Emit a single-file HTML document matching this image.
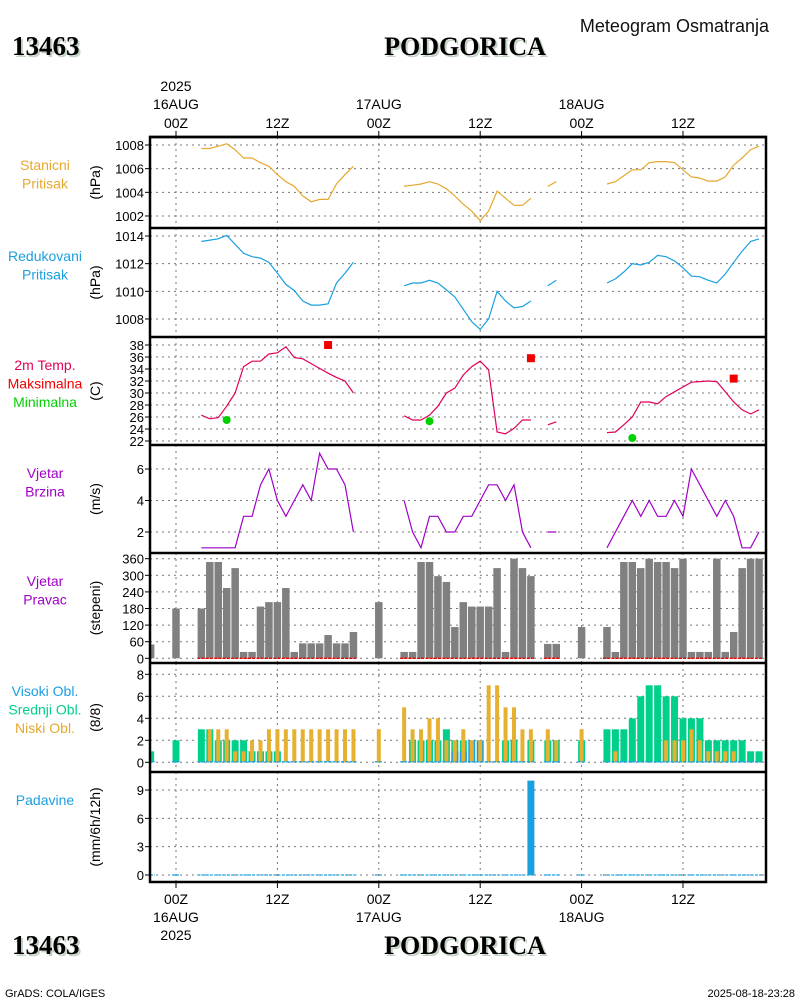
<!DOCTYPE html>
<html><head><meta charset="utf-8">
<style>
html,body{margin:0;padding:0;background:#fff;}
svg{display:block;font-family:"Liberation Sans",sans-serif;}
.ttl{font-family:"Liberation Serif",serif;font-weight:bold;}
</style></head>
<body>
<svg id="chart" width="800" height="1000" viewBox="0 0 800 1000" xmlns="http://www.w3.org/2000/svg">
  <g>
    <text x="769" y="32" font-size="18" text-anchor="end" fill="#111">Meteogram Osmatranja</text>
    <text class="ttl" x="14" y="57" font-size="27" fill="#c4d4c4">13463</text>
    <text class="ttl" x="12" y="55" font-size="27" fill="#000">13463</text>
    <text class="ttl" x="467" y="57" font-size="26" text-anchor="middle" fill="#c4d4c4">PODGORICA</text>
    <text class="ttl" x="465" y="55" font-size="26" text-anchor="middle" fill="#000">PODGORICA</text>
  </g>
  <g>
    <text class="ttl" x="14" y="956" font-size="27" fill="#c4d4c4">13463</text>
    <text class="ttl" x="12" y="954" font-size="27" fill="#000">13463</text>
    <text class="ttl" x="467" y="956" font-size="26" text-anchor="middle" fill="#c4d4c4">PODGORICA</text>
    <text class="ttl" x="465" y="954" font-size="26" text-anchor="middle" fill="#000">PODGORICA</text>
    <text x="5" y="997" font-size="11" fill="#000">GrADS: COLA/IGES</text>
    <text x="795" y="997" font-size="11" text-anchor="end" fill="#000">2025-08-18-23:28</text>
  </g>
  <g id="plots"></g>
</svg>
<script>
const hourStart = -3;
const hours = [];
for (let h = -3; h <= 69; h++) hours.push(h);
const N = null;
const stationPressure = [N,N,N,N,N,N,
 1007.7,1007.7,1007.9,1008.1,1007.6,1006.9,1006.9,1006.5,1006.2,1005.5,1004.9,1004.5,1003.7,1003.2,1003.4,1003.4,1004.7,1005.5,1006.2,
 N,N,N,N,N,
 1004.5,1004.6,1004.7,1004.9,1004.7,1004.3,1003.7,1003.0,1002.4,1001.6,1002.4,1004.1,1003.5,1002.9,1002.9,1003.5,
 N,1004.5,1004.9,N,N,N,N,N,
 1004.7,1004.9,1005.4,1005.9,1005.9,1006.5,1006.6,1006.6,1006.5,1005.9,1005.3,1005.2,1004.95,1004.95,1005.3,1006.3,1006.9,1007.6,1007.9];
const reducedPressure = [N,N,N,N,N,N,
 1013.6,1013.7,1013.8,1014.05,1013.4,1012.75,1012.5,1012.4,1012.1,1011.3,1010.5,1010.05,1009.3,1009.0,1009.0,1009.1,1010.6,1011.3,1012.1,
 N,N,N,N,N,
 1010.4,1010.6,1010.6,1010.8,1010.6,1010.1,1009.6,1008.7,1007.8,1007.25,1008.0,1010.0,1009.3,1008.8,1008.9,1009.3,
 N,1010.4,1010.8,N,N,N,N,N,
 1010.6,1010.9,1011.4,1012.0,1011.9,1012.1,1012.6,1012.5,1012.2,1011.7,1011.1,1011.05,1010.8,1010.6,1011.25,1012.1,1012.9,1013.6,1013.8];
const temperature = [N,N,N,N,N,N,
 26.3,25.7,25.9,27.8,30.0,34.4,35.3,35.3,36.5,36.7,37.7,35.9,35.7,34.9,34.1,33.3,32.6,32.0,30.0,
 N,N,N,N,N,
 26.2,25.5,25.5,26.3,27.8,30.0,30.8,33.0,34.4,35.3,33.9,23.5,23.2,24.1,25.5,25.5,
 N,24.7,25.2,N,N,N,N,N,
 23.4,23.5,24.7,26.0,28.5,28.5,28.2,29.4,30.2,31.0,31.8,31.9,32.0,31.9,30.2,28.5,27.2,26.5,27.2];
const maxTempHours = [18, 42, 66];
const maxTempValues = [38.0, 35.8, 32.4];
const minTempHours = [6, 30, 54];
const minTempValues = [25.5, 25.3, 22.5];
const windSpeed = [N,N,N,N,N,N,
 1,1,1,1,1,3,3,5,6,4,3,4,5,4,7,6,6,5,2,
 N,N,N,N,N,
 4,2,1,3,3,2,2,3,3,4,5,5,4,5,2,1,
 N,2,2,N,N,N,N,N,
 1,2,3,4,3,4,3,3,4,3,6,5,4,3,4,3,1,1,2];
const windDir = [50,N,N,180,N,N,
 180,348,348,254,326,23,23,187,203,203,254,23,54,54,54,84,54,54,95,
 N,N,203,N,N,
 23,23,348,348,297,276,113,203,187,187,187,326,23,360,326,297,
 N,52,52,N,N,113,N,N,
 113,23,348,348,326,360,348,348,326,360,23,23,23,360,23,95,326,360,360];
const cloudMid = [1,N,N,2,N,N,
 3,3,2,2,2,2,1,1,1,1,0,0,0,0,0,0,0,0,0,
 N,N,0,N,N,
 0,2,2,2,2,3,2,2,0,0,0,0,2,2,0,2,
 N,2,2,N,N,2,N,N,
 3,3,3,4,6,7,7,6,6,4,4,4,2,2,2,2,2,1,1];
const cloudHigh = [0,N,N,0,N,N,
 0,0,0,0,0,0,0,0,0,0,0,0,0,0,0,0,0,0,0,
 N,N,0,N,N,
 0,0,0,0,0,0,1,1,2,2,0,0,0,0,0,0,
 N,0,0,N,N,0,N,N,
 0,0,0,0,0,0,0,0,0,0,0,0,0,0,0,0,0,0,0];
const cloudLow = [0,N,N,0,N,N,
 0,3,3,3,1,1,2,2,3,3,3,3,3,3,3,3,3,3,3,
 N,N,3,N,N,
 5,3,3,4,4,2,2,3,2,2,7,7,5,5,3,3,
 N,3,2,N,N,3,N,N,
 0,1,0,0,0,0,0,2,2,2,3,2,1,1,1,1,0,0,0];
const precip = [0,N,N,0,N,N,
 0,0,0,0,0,0,0,0,0,0,0,0,0,0,0,0,0,0,0,
 N,N,0,N,N,
 0,0,0,0,0,0,0,0,0,0,0,0,0,0,0,10,
 N,0,0,N,N,0,N,N,
 0,0,0,0,0,0,0,0,0,0,0,0,0,0,0,0,0,0,0];
const ticksP1 = [1002,1004,1006,1008];
const ticksP2 = [1008,1010,1012,1014];
const ticksP3 = [22,24,26,28,30,32,34,36,38];
const ticksP4 = [2,4,6];
const ticksP5 = [0,60,120,180,240,300,360];
const ticksP6 = [0,2,4,6,8];
const ticksP7 = [0,3,6,9];
const timeTickHours = [0,12,24,36,48,60];
const timeTickLabels = ["00Z","12Z","00Z","12Z","00Z","12Z"];
const dayLabels = {0:"16AUG",24:"17AUG",48:"18AUG"};

const X0 = 150, X1 = 766;
const xs = h => 176 + h * 8.45;
const NS = "http://www.w3.org/2000/svg";
const root = document.getElementById('plots');
function mk(tag, attrs, parent) {
  const e = document.createElementNS(NS, tag);
  for (const k in attrs) e.setAttribute(k, attrs[k]);
  (parent || root).appendChild(e);
  return e;
}

const panels = [
  {top:137,bot:228,ys:v=>145+(1008-v)*11.83,ticks:ticksP1,unit:"(hPa)",labels:[["Stanicni","#e6a82e"],["Pritisak","#e6a82e"]],name:"station-pressure"},
  {top:228,bot:337,ys:v=>236+(1014-v)*13.83,ticks:ticksP2,unit:"(hPa)",labels:[["Redukovani","#1aa0e0"],["Pritisak","#1aa0e0"]],name:"reduced-pressure"},
  {top:337,bot:445,ys:v=>345+(38-v)*6,ticks:ticksP3,unit:"(C)",labels:[["2m Temp.","#e0005a"],["Maksimalna","#f00000"],["Minimalna","#00d000"]],name:"temperature"},
  {top:445,bot:553,ys:v=>469+(6-v)*15.75,ticks:ticksP4,unit:"(m/s)",labels:[["Vjetar","#a000c8"],["Brzina","#a000c8"]],name:"wind-speed"},
  {top:553,bot:663,ys:v=>658.3-v*0.2767,ticks:ticksP5,unit:"(stepeni)",labels:[["Vjetar","#a000c8"],["Pravac","#a000c8"]],name:"wind-direction"},
  {top:663,bot:772,ys:v=>762.3-v*11,ticks:ticksP6,unit:"(8/8)",labels:[["Visoki Obl.","#1aa0e0"],["Srednji Obl.","#00d08a"],["Niski Obl.","#e6a82e"]],name:"clouds"},
  {top:772,bot:882,ys:v=>875-v*9.44,ticks:ticksP7,unit:"(mm/6h/12h)",labels:[["Padavine","#1aa0e0"]],name:"precipitation"}
];

panels.forEach(p => {
  const g = mk('g', {});
  
  
  p.g = g;
  timeTickHours.forEach(h => {
    const l = mk('line', {x1:xs(h),x2:xs(h),y1:p.top,y2:p.bot,stroke:'#777','stroke-dasharray':'2,4','stroke-width':1}, g);
    
    
  });
  p.ticks.forEach(v => {
    const y = p.ys(v);
    const l = mk('line', {x1:X0,x2:X1,y1:y,y2:y,stroke:'#777','stroke-dasharray':'2,4','stroke-width':1}, g);
    
    
    mk('line', {x1:X0-5,x2:X0,y1:y,y2:y,stroke:'#000','stroke-width':1}, g);
    const t = mk('text', {x:X0-6,y:y+5,'font-size':13,'text-anchor':'end',fill:'#000'}, g);
    t.textContent = v;
    
    
  });
  const cy = (p.top + p.bot) / 2;
  const ut = mk('text', {x:0,y:0,'font-size':14,'text-anchor':'middle',fill:'#000',transform:`translate(100,${cy}) rotate(-90)`}, g);
  ut.textContent = p.unit;
  
  
  p.labels.forEach((lb, i) => {
    const t = mk('text', {x:45,y:p.top + 33 + i*18.5,'font-size':14,'text-anchor':'middle',fill:lb[1]}, g);
    t.textContent = lb[0];
    
    
  });
});

function line(p, vals, color, name) {
  let d = '';
  let pen = false;
  vals.forEach((v, i) => {
    if (v === null) { pen = false; return; }
    d += (pen ? 'L' : 'M') + xs(hours[i]).toFixed(1) + ' ' + p.ys(v).toFixed(1) + ' ';
    pen = true;
  });
  const e = mk('path', {d:d,fill:'none',stroke:color,'stroke-width':1.2}, p.g);
  
  
}
line(panels[0], stationPressure, '#e6a82e', 'station-pressure-line');
line(panels[1], reducedPressure, '#1aa0e0', 'reduced-pressure-line');
line(panels[2], temperature, '#e0005a', 'temperature-line');
line(panels[3], windSpeed, '#a000c8', 'wind-speed-line');

maxTempHours.forEach((h, i) => {
  const y = panels[2].ys(maxTempValues[i]);
  const r = mk('rect', {x:xs(h)-4,y:y-4,width:8,height:8,fill:'#f00000'}, panels[2].g);
  
  
});
minTempHours.forEach((h, i) => {
  const c = mk('circle', {cx:xs(h),cy:panels[2].ys(minTempValues[i]),r:4,fill:'#00d000'}, panels[2].g);
  
  
});

function bars(p, vals, color, w, name) {
  vals.forEach((v, i) => {
    if (v === null || v <= 0) return;
    const x = xs(hours[i]);
    const y0 = p.ys(0), y1 = p.ys(v);
    const r = mk('rect', {x:Math.max(X0, x-w/2),y:y1,width:Math.min(w, x+w/2-X0),height:y0-y1,fill:color}, p.g);
    
    
  });
}
function baseDashes(p, vals, color, y, name) {
  vals.forEach((v, i) => {
    if (v === null) return;
    const x = xs(hours[i]);
    const l = mk('line', {x1:Math.max(X0,x-4),x2:x+4,y1:y,y2:y,stroke:color,'stroke-width':1.3,'stroke-dasharray':'3,1'}, p.g);
    
    
  });
}
bars(panels[4], windDir, '#808080', 7.5, 'wind-direction-bar');
baseDashes(panels[4], windSpeed, '#f00000', panels[4].ys(0), 'calm-indicator');
bars(panels[5], cloudMid, '#00d08a', 7, 'mid-cloud-bar');
bars(panels[5], cloudHigh, '#1aa0e0', 7, 'high-cloud-bar');
bars(panels[5], cloudLow, '#e6b030', 4, 'low-cloud-bar');
baseDashes(panels[5], cloudLow, '#1aa0e0', panels[5].ys(0)-0.5, 'cloud-baseline');
baseDashes(panels[6], precip, '#1aa0e0', panels[6].ys(0), 'precip-baseline');
bars(panels[6], precip, '#1aa0e0', 7, 'precip-bar');

panels.forEach(p => {
  const l = mk('line', {x1:X0-1,x2:X1+1,y1:p.top,y2:p.top,stroke:'#000','stroke-width':2.5});
  
  
});
const fr = mk('rect', {x:X0,y:137,width:X1-X0,height:882-137,fill:'none',stroke:'#000','stroke-width':2.5});



timeTickHours.forEach((h, i) => {
  const x = xs(h);
  mk('line', {x1:x,x2:x,y1:131,y2:137,stroke:'#000','stroke-width':1});
  mk('line', {x1:x,x2:x,y1:882,y2:888,stroke:'#000','stroke-width':1});
  const t1 = mk('text', {x:x,y:128,'font-size':14,'text-anchor':'middle',fill:'#000'});
  t1.textContent = timeTickLabels[i];
  
  
  const t2 = mk('text', {x:x,y:904,'font-size':14,'text-anchor':'middle',fill:'#000'});
  t2.textContent = timeTickLabels[i];
  
  
  if (dayLabels[h]) {
    const d1 = mk('text', {x:x,y:109,'font-size':14,'text-anchor':'middle',fill:'#000'});
    d1.textContent = dayLabels[h];
    
    
    const d2 = mk('text', {x:x,y:922,'font-size':14,'text-anchor':'middle',fill:'#000'});
    d2.textContent = dayLabels[h];
    
    
  }
});
const y1 = mk('text', {x:xs(0),y:91,'font-size':14,'text-anchor':'middle',fill:'#000'});
y1.textContent = '2025';


const y2 = mk('text', {x:xs(0),y:940,'font-size':14,'text-anchor':'middle',fill:'#000'});
y2.textContent = '2025';


</script>
</body></html>
